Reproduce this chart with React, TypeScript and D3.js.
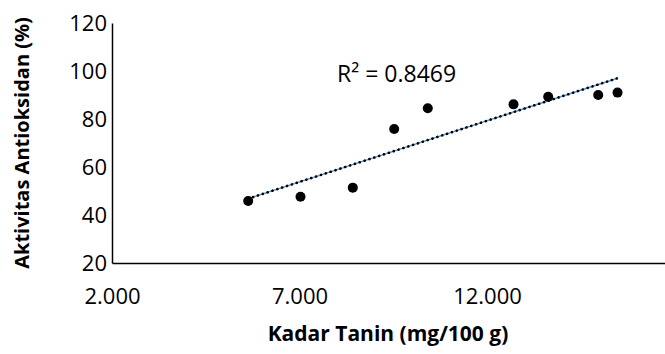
import React, { useRef, useEffect } from 'react';
import * as d3 from 'd3';

// Kadar tanin (mg/100 g) vs aktivitas antioksidan (%)
const tanin = [5632, 7027, 8421, 9525, 10421, 12707, 13632, 14966, 15481];
const aktivitas = [45.8, 47.6, 51.4, 75.8, 84.5, 86.1, 89.3, 90.0, 91.0];
const xTicks = [2000, 7000, 12000];
const yTicks = [20, 40, 60, 80, 100, 120];
const r2Label = 'R² = 0.8469';

const FONT = '"Open Sans", "Noto Sans", sans-serif';

const App = () => {
  const svgRef = useRef<SVGSVGElement>(null);

  useEffect(() => {
    const svg = d3.select(svgRef.current);
    svg.selectAll('*').remove();

    const x = d3.scaleLinear().domain([2000, 17000]).range([112, 674.5]);
    const y = d3.scaleLinear().domain([20, 120]).range([263, 23]);

    const fmt = d3.formatLocale({ decimal: ',', thousands: '.', grouping: [3], currency: ['', ''] }).format(',.0f');

    // axes
    const xAxis = svg.append('g')
      .attr('transform', `translate(0,${y(20)})`)
      .call(d3.axisBottom(x).tickValues(xTicks).tickFormat(d => fmt(d as number)).tickSize(0).tickPadding(0));
    xAxis.select('.domain').attr('stroke', '#000').attr('stroke-width', 1.5);
    xAxis.selectAll('text')
      .attr('y', 0)
      .attr('dy', 41)
      .style('font-family', FONT)
      .style('font-size', '22px')
      .attr('fill', '#000');

    const yAxis = svg.append('g')
      .attr('transform', `translate(${x(2000)},0)`)
      .call(d3.axisLeft(y).tickValues(yTicks).tickSize(0).tickPadding(5));
    yAxis.select('.domain').attr('stroke', '#000').attr('stroke-width', 1.5);
    yAxis.selectAll('text')
      .style('font-family', FONT)
      .style('font-size', '22px')
      .attr('fill', '#000');

    // linear trendline (least squares)
    const mx = d3.mean(tanin)!;
    const my = d3.mean(aktivitas)!;
    const sxy = d3.sum(tanin, (v, i) => (v - mx) * (aktivitas[i] - my));
    const sxx = d3.sum(tanin, v => (v - mx) ** 2);
    const slope = sxy / sxx;
    const icpt = my - slope * mx;
    const ends = d3.extent(tanin) as [number, number];
    const line = d3.line<number>().x(d => x(d)).y(d => y(icpt + slope * d));

    svg.append('path')
      .datum(ends)
      .attr('d', line)
      .attr('stroke', '#5b9bd5')
      .attr('stroke-width', 1.5)
      .attr('fill', 'none');
    svg.append('path')
      .datum(ends)
      .attr('d', line)
      .attr('stroke', '#000')
      .attr('stroke-width', 2.6)
      .attr('stroke-dasharray', '0.1,5')
      .attr('stroke-linecap', 'round')
      .attr('fill', 'none');

    // points
    svg.append('g')
      .selectAll('circle')
      .data(tanin)
      .enter().append('circle')
      .attr('cx', d => x(d))
      .attr('cy', (d, i) => y(aktivitas[i]))
      .attr('r', 5)
      .attr('fill', '#000');

    // R² label
    svg.append('text')
      .attr('x', 337)
      .attr('y', 82)
      .style('font-family', FONT)
      .style('font-size', '23px')
      .attr('fill', '#000')
      .text(r2Label);

    // axis titles
    svg.append('text')
      .attr('x', 388)
      .attr('y', 341)
      .attr('text-anchor', 'middle')
      .style('font-family', FONT)
      .style('font-size', '21px')
      .style('font-weight', 'bold')
      .text('Kadar Tanin (mg/100 g)');

    svg.append('text')
      .attr('transform', 'translate(29,143) rotate(-90)')
      .attr('text-anchor', 'middle')
      .style('font-family', FONT)
      .style('font-size', '20px')
      .style('font-weight', 'bold')
      .text('Aktivitas Antioksidan (%)');
  }, []);

  return (
    <svg
      ref={svgRef}
      width={665}
      height={354}
      style={{ position: 'absolute', left: 0, top: 0, background: '#fff' }}
    />
  );
};

export default App;
